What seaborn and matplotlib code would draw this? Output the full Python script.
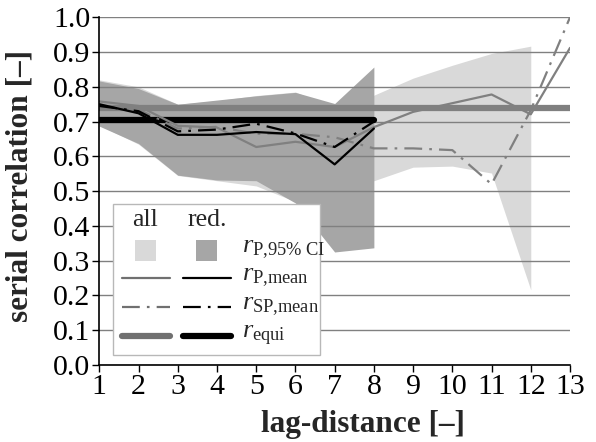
import numpy as np
import pandas as pd
import matplotlib
matplotlib.use("Agg")
import matplotlib.pyplot as plt
import seaborn as sns
from matplotlib.patches import Rectangle
from matplotlib.lines import Line2D

# ---------------- data ----------------
lag_all = [1, 2, 3, 4, 5, 6, 7, 8, 9, 10, 11, 12]
ci_all_upper = [0.82, 0.80, 0.75, 0.76, 0.775, 0.785, 0.74, 0.776, 0.825, 0.862, 0.896, 0.917]
ci_all_lower = [0.69, 0.635, 0.545, 0.53, 0.515, 0.47, 0.50, 0.53, 0.569, 0.572, 0.552, 0.216]

lag_red = [1, 2, 3, 4, 5, 6, 7, 8]
ci_red_upper = [0.817, 0.795, 0.75, 0.762, 0.774, 0.784, 0.752, 0.857]
ci_red_lower = [0.687, 0.637, 0.546, 0.532, 0.53, 0.466, 0.325, 0.337]

lag_mean_all = [1, 2, 3, 4, 5, 6, 7, 8, 9, 10, 11, 12, 13]
rP_mean_all = [0.758, 0.745, 0.688, 0.683, 0.627, 0.642, 0.627, 0.684, 0.728, 0.753, 0.778, 0.721, 0.912]
rSP_mean_all = [0.745, 0.735, 0.68, 0.685, 0.665, 0.665, 0.655, 0.623, 0.623, 0.618, 0.52, 0.733, 1.0]

rP_mean_red = [0.75, 0.724, 0.662, 0.662, 0.670, 0.664, 0.577, 0.68]
rSP_mean_red = [0.745, 0.73, 0.672, 0.677, 0.694, 0.666, 0.627, 0.70]

equi_all = 0.74
equi_red = 0.705
equi_all_span = [1, 13]
equi_red_span = [1, 8]

x_ticks = list(range(1, 14))
y_ticks = [round(0.1 * i, 1) for i in range(11)]

# ---------------- style ----------------
sns.set_style("white")
plt.rcParams["font.family"] = ["Liberation Serif", "DejaVu Serif"]
plt.rcParams["mathtext.fontset"] = "custom"
plt.rcParams["mathtext.rm"] = "Liberation Serif"
plt.rcParams["mathtext.it"] = "Liberation Serif:italic"
plt.rcParams["mathtext.bf"] = "Liberation Serif:bold"

c_light = "#d9d9d9"
c_dark = "#a6a6a6"
c_gray = "#808080"

fig = plt.figure(figsize=(5.96, 4.42), dpi=100)
ax = fig.add_axes([99.3 / 596, 1 - 365 / 442, (570 - 99.3) / 596, (365 - 17.3) / 442])

# CI fills
ax.fill_between(lag_all, ci_all_lower, ci_all_upper, color=c_light, lw=0, zorder=1)
ax.fill_between(lag_red, ci_red_lower, ci_red_upper, color=c_dark, lw=0, zorder=1.1)

# equi lines
sns.lineplot(x=equi_all_span, y=[equi_all] * 2, ax=ax, color=c_gray, lw=4.5, zorder=2)
sns.lineplot(x=equi_red_span, y=[equi_red] * 2, ax=ax, color="black", lw=4.5, zorder=2.1)

dashdot = (0, (8, 3.2, 1.2, 3.2))
# mean lines
sns.lineplot(x=lag_mean_all, y=rP_mean_all, ax=ax, color=c_gray, lw=1.6, zorder=2.2)
sns.lineplot(x=lag_mean_all, y=rSP_mean_all, ax=ax, color=c_gray, lw=1.6, linestyle=dashdot, zorder=2.2)
sns.lineplot(x=lag_red, y=rP_mean_red, ax=ax, color="black", lw=1.6, zorder=2.3)
sns.lineplot(x=lag_red, y=rSP_mean_red, ax=ax, color="black", lw=1.6, linestyle=dashdot, zorder=2.3)

# axes
ax.set_xlim(1, 13)
ax.set_ylim(0, 1.0)
ax.set_xticks(x_ticks)
ax.set_yticks(y_ticks)
ax.set_yticklabels([f"{v:.1f}" for v in y_ticks])
ax.set_axisbelow("line")
ax.yaxis.grid(True, color=c_gray, lw=1.0)
ax.xaxis.grid(False)
for s in ["top", "right"]:
    ax.spines[s].set_visible(False)
for s in ["left", "bottom"]:
    ax.spines[s].set_color("black")
    ax.spines[s].set_linewidth(1.2)
ax.tick_params(axis="both", direction="out", length=5, width=1, color="black",
               labelsize=21.5, labelcolor="black", pad=1.5, left=True, bottom=True)
ax.set_xlabel("lag-distance [–]", fontsize=22.5, fontweight="bold", va="center")
ax.set_ylabel("serial correlation [–]", fontsize=22.5, fontweight="bold", va="center")
ax.xaxis.set_label_coords(0.56, -0.172)
ax.yaxis.set_label_coords(-0.168, 0.515)

# ---------------- legend (manual) ----------------
T = ax.transAxes
box = Rectangle((0.029, 0.029), 0.44, 0.434, transform=T, facecolor="white",
                edgecolor="#b8b8b8", lw=1.0, zorder=5)
ax.add_patch(box)
ax.text(0.097, 0.417, "all", transform=T, ha="center", va="center", fontsize=18.5, zorder=6)
ax.text(0.229, 0.417, "red.", transform=T, ha="center", va="center", fontsize=18.5, zorder=6)
ax.add_patch(Rectangle((0.0758, 0.299), 0.0446, 0.060, transform=T, facecolor=c_light, lw=0, zorder=6))
ax.add_patch(Rectangle((0.2054, 0.299), 0.0446, 0.060, transform=T, facecolor=c_dark, lw=0, zorder=6))
rows = [(0.250, "-", 1.6), (0.167, dashdot, 1.6), (0.083, "-", 4.5)]
for yy, ls, lw in rows:
    ax.add_line(Line2D([0.048, 0.150], [yy, yy], transform=T, color="#707070", lw=lw, ls=ls, zorder=6))
    ax.add_line(Line2D([0.178, 0.280], [yy, yy], transform=T, color="black", lw=lw, ls=ls, zorder=6))
labels = [(0.331, r"$r_{\mathrm{P{,}95\%\ CI}}$"), (0.250, r"$r_{\mathrm{P{,}mean}}$"),
          (0.167, r"$r_{\mathrm{SP{,}mean}}$"), (0.083, r"$r_{\mathrm{equi}}$")]
for yy, lab in labels:
    ax.text(0.303, yy, lab, transform=T, ha="left", va="center", fontsize=19, zorder=6)

fig.savefig("out.png", dpi=100)
